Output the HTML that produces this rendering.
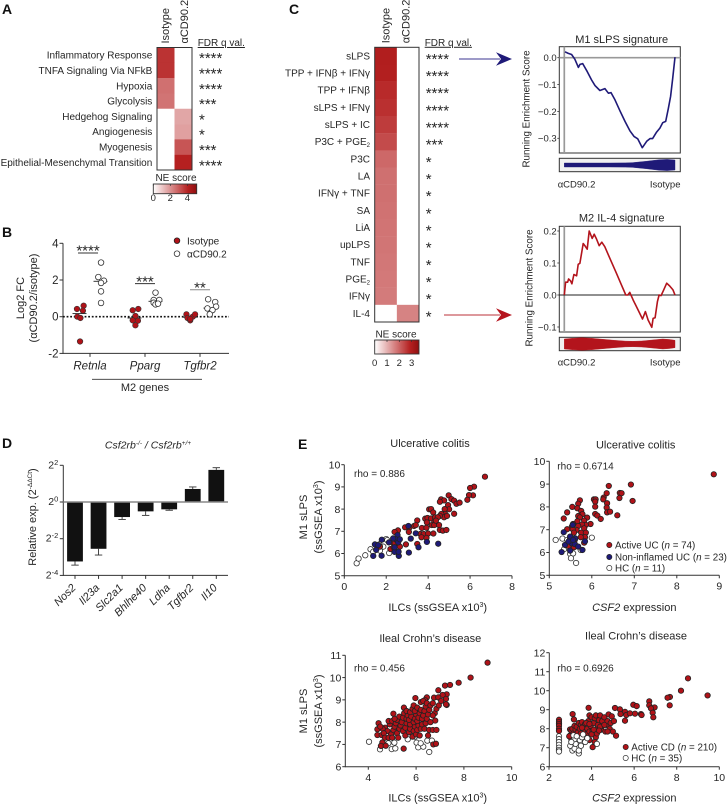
<!DOCTYPE html>
<html lang="en">
<head>
<meta charset="utf-8">
<title>Multi-panel figure</title>
<style>
html,body{margin:0;padding:0;background:#fff;width:727px;height:804px;overflow:hidden}
svg{display:block}
text{font-family:"Liberation Sans",sans-serif;fill:#262626}
.let{font-weight:bold;font-size:14px;fill:#111}
.it{font-style:italic}
</style>
</head>
<body>
<svg id="fig" xmlns="http://www.w3.org/2000/svg" width="727" height="804" viewBox="0 0 727 804">
<defs>
<linearGradient id="heatGrad" x1="0" x2="1" y1="0" y2="0">
<stop offset="0" stop-color="#ffffff"/><stop offset="0.8" stop-color="#b52020"/><stop offset="1" stop-color="#8f0f10"/>
</linearGradient>
</defs>
<text class="let" x="2" y="14">A</text>
<text class="let" x="2" y="237">B</text>
<text class="let" x="289" y="14">C</text>
<text class="let" x="2" y="448">D</text>
<text class="let" x="298" y="449">E</text>

<g id="panelA"></g>
<g id="panelB">
<text transform="translate(24,298) rotate(-90)" text-anchor="middle" font-size="11">Log2 FC</text>
<text transform="translate(37,298) rotate(-90)" text-anchor="middle" font-size="11">(αCD90.2/isotype)</text>
<circle cx="177" cy="240.7" r="2.8" fill="#b01218" stroke="#222" stroke-width="0.8"/>
<text x="187" y="244.3" font-size="10">Isotype</text>
<circle cx="177" cy="253.7" r="2.8" fill="#fff" stroke="#333" stroke-width="0.8"/>
<text x="187" y="257.3" font-size="10">αCD90.2</text>
<line x1="92" x2="202" y1="379.3" y2="379.3" stroke="#333" stroke-width="0.9"/>
<text x="145" y="391" text-anchor="middle" font-size="11">M2 genes</text>
</g>
<g id="panelC">
<line x1="459" x2="500" y1="59" y2="59" stroke="#7d79b5" stroke-width="1.6"/>
<polygon points="512,59 496,52.3 501,59 496,65.7" fill="#1f1a78"/>
<line x1="444" x2="500" y1="315" y2="315" stroke="#d2777c" stroke-width="1.6"/>
<polygon points="512,315 496,308.3 501,315 496,321.7" fill="#b5141e"/>
</g>
<g id="gsea1">
<text x="621.7" y="43" text-anchor="middle" font-size="11">M1 sLPS signature</text>
<text transform="translate(529.5,109) rotate(-90)" text-anchor="middle" font-size="9.8">Running Enrichment Score</text>
<text x="570.3" y="139" font-size="8.5">NES = -3.60</text>
<text x="570.3" y="148.7" font-size="8.5">FDR q val. = 0</text>
<text x="557.7" y="187.5" font-size="9.5">αCD90.2</text>
<text x="680.5" y="187.5" text-anchor="end" font-size="9.5">Isotype</text>
</g>
<g id="gsea2">
<text x="621.7" y="221.5" text-anchor="middle" font-size="11">M2 IL-4 signature</text>
<text transform="translate(532.5,288) rotate(-90)" text-anchor="middle" font-size="9.8">Running Enrichment Score</text>
<text x="570.3" y="317" font-size="8.5">NES = 1.83</text>
<text x="570.3" y="328" font-size="8.5">FDR q val. = 0.037</text>
<text x="557.7" y="365.5" font-size="9.5">αCD90.2</text>
<text x="680.5" y="365.5" text-anchor="end" font-size="9.5">Isotype</text>
</g>
<g id="panelD">
<text x="148" y="448.5" text-anchor="middle" font-size="10.5" class="it">Csf2rb<tspan dy="-3.5" font-size="6.5">-/-</tspan><tspan dy="3.5"> / Csf2rb</tspan><tspan dy="-3.5" font-size="6.5">+/+</tspan></text>
<text transform="translate(36,517) rotate(-90)" text-anchor="middle" font-size="11">Relative exp. (2<tspan dy="-4" font-size="6.5">-ΔΔCt</tspan><tspan dy="4">)</tspan></text>
</g>
<g id="scatter1">
<text x="430" y="447" text-anchor="middle" font-size="11">Ulcerative colitis</text>
<text x="354" y="477" font-size="10">rho = 0.886</text>
<text x="437.7" y="611" text-anchor="middle" font-size="11">ILCs (ssGSEA x10<tspan dy="-4" font-size="7">3</tspan><tspan dy="4">)</tspan></text>
<text transform="translate(307,517) rotate(-90)" text-anchor="middle" font-size="11">M1 sLPS</text>
<text transform="translate(322,517) rotate(-90)" text-anchor="middle" font-size="11">(ssGSEA x10<tspan dy="-4" font-size="7">3</tspan><tspan dy="4">)</tspan></text>
</g>
<g id="scatter2">
<text x="635.7" y="448.5" text-anchor="middle" font-size="11">Ulcerative colitis</text>
<text x="557.3" y="469.5" font-size="10">rho = 0.6714</text>
<text x="634.3" y="611" text-anchor="middle" font-size="11"><tspan class="it">CSF2</tspan> expression</text>
</g>
<g id="scatter3">
<text x="430.3" y="642" text-anchor="middle" font-size="11">Ileal Crohn’s disease</text>
<text x="354" y="671.3" font-size="10">rho = 0.456</text>
<text x="437.7" y="801.5" text-anchor="middle" font-size="11">ILCs (ssGSEA x10<tspan dy="-4" font-size="7">3</tspan><tspan dy="4">)</tspan></text>
<text transform="translate(307,711) rotate(-90)" text-anchor="middle" font-size="11">M1 sLPS</text>
<text transform="translate(322,711) rotate(-90)" text-anchor="middle" font-size="11">(ssGSEA x10<tspan dy="-4" font-size="7">3</tspan><tspan dy="4">)</tspan></text>
</g>
<g id="scatter4">
<text x="636" y="639.5" text-anchor="middle" font-size="11">Ileal Crohn’s disease</text>
<text x="557.3" y="671.3" font-size="10">rho = 0.6926</text>
<text x="634.3" y="801.5" text-anchor="middle" font-size="11"><tspan class="it">CSF2</tspan> expression</text>
</g>
<g id="legends">
<circle cx="609.3" cy="545" r="2.6" fill="#b01218" stroke="#222" stroke-width="0.7"/>
<text x="615" y="548.3" font-size="9.8">Active UC (<tspan class="it">n</tspan> = 74)</text>
<circle cx="609.3" cy="557" r="2.6" fill="#1e1a78" stroke="#222" stroke-width="0.7"/>
<text x="615" y="560.3" font-size="9.8">Non-inflamed UC (<tspan class="it">n</tspan> = 23)</text>
<circle cx="609.3" cy="568" r="2.6" fill="#fff" stroke="#333" stroke-width="0.7"/>
<text x="615" y="571.3" font-size="9.8">HC (<tspan class="it">n</tspan> = 11)</text>
<circle cx="625.7" cy="747" r="2.6" fill="#b01218" stroke="#222" stroke-width="0.7"/>
<text x="631.3" y="750.3" font-size="9.8">Active CD (<tspan class="it">n</tspan> = 210)</text>
<circle cx="625.7" cy="758" r="2.6" fill="#fff" stroke="#333" stroke-width="0.7"/>
<text x="631.3" y="761.3" font-size="9.8">HC (<tspan class="it">n</tspan> = 35)</text>
</g>
</svg>
<script>
// ---------- Panel A data ----------
const aLabels = ["Inflammatory Response","TNFA Signaling Via NFkB","Hypoxia","Glycolysis","Hedgehog Signaling","Angiogenesis","Myogenesis","Epithelial-Mesenchymal Transition"];
const aIsotype = [3.73,3.73,2.61,2.55,null,null,null,null];
const aCd90 = [null,null,null,null,1.63,1.73,3.11,4.08];
const aStars = ["****","****","****","***","*","*","***","****"];
const aBarTicks = [0,2,4];
// ---------- Panel C data ----------
const cLabels = ["sLPS","TPP + IFNβ + IFNγ","TPP + IFNβ","sLPS + IFNγ","sLPS + IC","P3C + PGE_2","P3C","LA","IFNγ + TNF","SA","LiA","upLPS","TNF","PGE_2","IFNγ","IL-4"];
const cIsotype = [2.96,2.93,2.75,2.67,2.52,2.32,1.95,1.85,1.85,1.82,1.8,1.78,1.75,1.73,1.7,null];
const cCd90 = [null,null,null,null,null,null,null,null,null,null,null,null,null,null,null,1.6];
const cStars = ["****","****","****","****","****","***","*","*","*","*","*","*","*","*","*","*"];
const cBarTicks = [0,1,2,3];
// ---------- Panel B data ----------
const bGenes = ["Retnla","Pparg","Tgfbr2"];
const bIsoOffsets = [[-0.14,0.23,0.19,-0.12,0.05,0.03],[-0.1,0.21,0.05,-0.1,0.19,0.05],[-0.17,-0.11,0.04,0.18,0.31,0.04]];
const bIsoValues = [[0.42,0.6,0.33,0,-0.07,-1.35],[0.35,0.42,0.04,-0.2,-0.22,-0.47],[0.13,-0.07,-0.2,0,0.13,-0.13]];
const bAntiOffsets = [[0.03,-0.12,0.19,0.03,0.03,0.03],[0,-0.1,0.21,-0.1,0,0.14],[-0.13,0.26,-0.17,0.31,0.11,-0.04]];
const bAntiValues = [[2.95,2.16,1.96,1.84,1.38,0.75],[1.31,0.91,0.91,0.76,0.67,0.71],[0.95,0.8,0.45,0.55,0.36,0.13]];
const bIsoMeans = [0.17,-0.07,-0.03];
const bAntiMeans = [1.93,0.84,0.47];
const bSigLevels = [3.47,1.8,1.47];
const bSigLabels = ["****","***","**"];
const bSigShift = [-0.11,0,0];
const bYTicks = [-2,0,2,4];
// ---------- GSEA data ----------
const m1Ranks = [0.6,3.6,6.6,9.6,12.7,14.2,16.6,20.8,24.7,27.7,32.2,36.7,39.8,42.2,45.8,50.3,54.8,59.3,63,66.3,70.5,74.4,77.4,79.8,83.4,86.4,88.9,91.6,94,96,97.9,100];
const m1Scores = [0.022,0.016,0.012,-0.006,-0.036,-0.025,-0.022,-0.052,-0.083,-0.104,-0.122,-0.115,-0.132,-0.13,-0.157,-0.198,-0.237,-0.272,-0.293,-0.302,-0.335,-0.311,-0.301,-0.301,-0.277,-0.262,-0.242,-0.237,-0.188,-0.144,-0.077,0.002];
const m1Ticks = [0,-0.1,-0.2,-0.3];
const m1TickLabels = ["0.0","−0.1","−0.2","−0.3"];
const m1ViolinRanks = [0,20,40,55,62,74,86,93,100];
const m1ViolinDensity = [2,2,2,2.1,2.4,3.7,5.3,5.6,5];
const m2Ranks = [0,1.2,3,3.9,5.7,6.9,8.7,11.1,12.6,14.1,17.1,18.6,20.7,22.5,25.2,27,29.1,31.5,33.9,36.6,41.1,47.1,51.7,55.6,57.4,59.2,62.2,66.7,70.6,73.3,75.7,79,80.2,82,84.1,85.6,87.4,89.8,92.5,95.2,98.2,100];
const m2Scores = [0,0.04,0.04,0.05,0.044,0.035,0.064,0.06,0.096,0.099,0.161,0.154,0.143,0.2,0.177,0.19,0.175,0.154,0.165,0.151,0.115,0.068,0.031,0,0,0.008,-0.016,-0.047,-0.075,-0.052,-0.078,-0.101,-0.073,-0.071,-0.021,0,-0.002,0.016,0.037,0.028,0.016,0];
const m2Ticks = [0.2,0.1,0,-0.1];
const m2TickLabels = ["0.2","0.1","0.0","−0.1"];
const m2ViolinRanks = [0,8,16,24,32,45,55,62,70,77,89,95,100];
const m2ViolinDensity = [5,5.8,6.3,5.8,5,3.7,2.9,2.7,3,3.7,5,4.5,3.7];
// ---------- Panel D data ----------
const dGenes = ["Nos2","Il23a","Slc2a1","Bhlhe40","Ldha","Tgfbr2","Il10"];
const dValues = [-3.24,-2.55,-0.82,-0.51,-0.4,0.71,1.75];
const dErrors = [0.2,0.34,0.13,0.22,0.05,0.11,0.12];
const dYTicks = [2,0,-2,-4];
// ---------- Panel E data ----------
const s1Red = [[6.71,9.46],[6.19,9.01],[6,8.95],[6.14,8.62],[5.95,8.63],[5.87,8.42],[4.98,8.62],[5.11,8.45],[5.24,8.38],[5.35,8.24],[5.5,8.29],[4.62,8.44],[4.76,8.39],[4.56,8.33],[4.95,8.18],[5,7.99],[4.79,8],[5.24,7.79],[4.05,7.99],[4.14,8],[4.24,7.85],[4.81,7.78],[4.63,7.78],[4.76,7.63],[4.56,7.69],[4.9,7.69],[3.48,7.49],[3.86,7.57],[3.97,7.6],[4.14,7.58],[4.33,7.63],[4.46,7.63],[3.94,7.4],[4.3,7.43],[4.17,7.28],[4.29,7.28],[4.52,7.28],[4.37,7.48],[3.33,7.24],[3.41,7.28],[2.9,7.18],[3.1,7.16],[3.7,7.15],[3.92,7.16],[4.56,7.06],[4.7,7.03],[4.87,7.06],[2.56,7.04],[2.4,6.97],[3.08,6.97],[3.63,6.88],[3.79,6.88],[4,6.9],[4.25,6.9],[3.68,6.73],[3.92,6.7],[2.6,6.6],[2.33,6.49],[2.52,6.44],[2.94,6.41],[3.48,6.43],[1.7,6.31],[2.2,6.2],[2.35,6.28],[2.65,6.31],[2.41,6.46],[2.49,6.61]];
const s1Blue = [[1.38,5.89],[1.78,5.9],[2.6,5.89],[2.4,6.07],[2.59,6.08],[3.08,6.04],[3.54,6.28],[1.52,6.16],[1.46,6.41],[1.79,6.62],[2.13,6.5],[2.54,6.83],[2.44,6.65],[2.57,6.5],[3.17,6.67],[3.41,6.91],[3.94,6.52],[4.48,6.44],[3.06,7.24],[2.33,6.68],[2.4,6.28],[2.65,6.64],[1.62,6.38]];
const s1Hc = [[0.59,5.56],[0.68,5.77],[1,5.92],[1.25,6.19],[1.7,6.13],[2.14,6.02],[2,6.65],[1.67,6.41],[1.38,6.08],[1.86,6.31],[2.05,6.6]];
const s1XTicks = [0,2,4,6,8];
const s1YTicks = [5,6,7,8,9,10];
const s2Red = [[8.87,9.43],[6.92,8.98],[6.4,8.92],[6.35,8.6],[6.66,8.61],[6.7,8.6],[6.28,8.41],[6.27,8.33],[6.65,8.39],[6.96,8.26],[6.36,8.16],[6.05,8.33],[6.09,8.33],[6.08,8.23],[6.08,8.01],[6.35,7.97],[6.36,7.76],[6.43,7.79],[6.08,7.69],[6.13,7.62],[6.21,7.47],[6.6,7.63],[5.72,8.29],[5.68,8.14],[5.54,8],[5.66,7.94],[5.42,7.76],[5.34,7.49],[5.75,7.82],[5.78,7.68],[5.68,7.6],[5.72,7.54],[5.89,7.53],[5.82,7.4],[5.66,7.37],[5.97,7.25],[5.86,7.21],[5.77,7.22],[5.68,7.16],[5.56,7.25],[5.53,7.13],[5.42,7.02],[5.64,6.99],[5.82,7.06],[5.55,7.02],[5.75,6.87],[5.86,6.87],[5.58,6.87],[5.84,6.67],[5.74,6.67],[5.82,6.43],[5.45,6.29],[5.58,6.23],[5.49,6.62],[5.6,6.55]];
const s2Blue = [[5.34,6.89],[5.55,7.21],[5.49,6.7],[5.61,6.62],[5.53,6.4],[5.6,6.37],[5.29,6.02],[5.37,6.33],[5.49,6.08],[5.84,6.49],[5.78,6.11],[5.45,6.48],[5.68,6.26],[5.56,6.55]];
const s2Hc = [[5.15,6.55],[5.31,6.61],[5.42,6.55],[6,6.65],[5.35,6.15],[5.45,6.23],[5.49,5.94],[5.56,5.96],[5.51,5.75],[5.63,5.54],[5.74,6.11]];
const s2XTicks = [5,6,7,8,9];
const s2YTicks = [5,6,7,8,9,10];
const s3Red = [[8.99,10.67],[8.28,10],[7.78,9.77],[7.42,9.67],[7.21,9.64],[6.93,9.43],[7.28,9.25],[7.11,9.22],[7.25,9.04],[7.28,8.77],[5.97,9.08],[6.45,9.11],[6.37,8.99],[6.75,9.1],[6.93,9.11],[5.49,8.65],[5.05,8.38],[4.43,7.95],[4.38,7.42],[4.38,7.68],[4.56,7.42],[4.59,7.09],[4.53,6.93],[4.73,6.94],[5.48,6.81],[6.72,7],[6.83,7.03],[6.8,8.07],[6.78,8.4],[4.7,7.75],[4.8,7.6],[4.9,7.9],[4.85,8.05],[5,8.05],[4.95,7.45],[5.05,7.65],[5.1,7.8],[5.15,7.95],[5.2,7.5],[5.25,7.3],[5.3,7.7],[5.2,8.1],[5.35,7.85],[5.4,8],[5.45,7.6],[5.3,8.25],[5.45,8.2],[5.5,8.4],[5.55,7.4],[5.55,7.75],[5.6,7.95],[5.6,8.15],[5.65,8.3],[5.6,8.5],[5.7,7.55],[5.75,7.7],[5.75,7.9],[5.7,8.1],[5.8,8.25],[5.75,8.45],[5.85,8.6],[5.9,8.75],[5.85,7.35],[5.9,7.6],[5.95,7.8],[5.9,8],[5.95,8.15],[6,8.35],[5.95,8.5],[6.05,8.65],[6,7.45],[6.05,7.65],[6.1,7.85],[6.05,8.05],[6.1,8.2],[6.15,8.4],[6.2,8.55],[6.2,8.9],[6.3,8.95],[6.15,7.4],[6.2,7.7],[6.25,7.9],[6.25,8.15],[6.3,8.3],[6.35,8.5],[6.4,8.7],[6.45,8.85],[6.35,7.7],[6.4,7.95],[6.45,8.15],[6.5,8.35],[6.55,8.55],[6.6,8.75],[6.7,8.85],[6.5,7.4],[6.55,7.65],[6.7,7.65],[6.85,7.65],[6.6,8],[6.7,8.3],[6.85,8.6],[6.95,8.75],[7.05,8.95],[7.25,8.8],[4.6,7.7],[4.65,7.5],[4.7,7.3],[4.85,7.3],[5,7.3],[4.5,7.8],[5.1,8.15]];
const s3Hc = [[4.03,7.12],[4.49,6.78],[4.56,6.97],[4.84,7.05],[5.09,7.08],[4.98,6.79],[5.13,6.82],[5.65,7.23],[6.02,7.08],[6.09,6.87],[6.3,6.9],[6.47,7.17],[6.55,6.66],[6.66,7.17],[5.95,7.35],[6.19,7.05]];
const s3XTicks = [4,6,8,10];
const s3YTicks = [6,7,8,9,10,11];
const s4Red = [[9.45,9.75],[8.53,10.65],[8.2,10],[7.68,9.67],[7.57,9.63],[7.67,9.23],[6.71,9.44],[6.71,9.23],[6.96,9.12],[6.79,9.07],[6.87,8.84],[6.9,8.6],[5.96,9.26],[6.12,9.19],[6.32,8.77],[6.35,8.72],[5.57,8.89],[5.63,8.72],[5.57,8.42],[5.8,8.81],[6.04,8.79],[5.33,9.02],[5.1,9.09],[5.36,8.77],[5.15,7.63],[3.11,8.77],[3.17,8.49],[3.86,9.1],[4.05,7.03],[2.99,7.96],[2.47,8.47],[2.47,8.35],[2.47,8.25],[2.47,8.15],[2.47,8],[2.47,7.88],[3,7.65],[3.05,7.9],[3.1,8],[3.15,7.75],[3.2,8.15],[3.25,7.95],[3.3,8.1],[3.35,7.8],[3.4,8.3],[3.45,8],[3.5,8.2],[3.55,8.35],[3.6,7.85],[3.65,8.1],[3.7,8.25],[3.75,7.7],[3.8,8],[3.85,8.4],[3.9,8.7],[3.9,7.85],[3.95,8.15],[4,8.6],[4.05,7.9],[4.1,8.3],[4.15,8.55],[4.2,8.7],[4.2,7.55],[4.25,7.75],[4.25,8],[4.3,8.2],[4.35,8.45],[4.4,8.7],[4.45,7.95],[4.5,8.15],[4.5,8.4],[4.6,8.6],[4.65,7.85],[4.7,8.2],[4.75,8.4],[4.8,8.75],[4.85,8],[4.9,8.3],[4.95,8.65],[5,7.85],[5.05,8.4],[4.15,7.3],[3.9,7.4],[3.7,7.55],[3.5,7.75],[3.35,7.45],[3.1,7.05],[3.05,7.45],[2.95,7.6],[4.4,8.1],[4.6,8.2],[4,7.7],[3.75,8.3],[3.55,8.05],[3.2,7.6],[4.1,7.95],[3.9,8.25],[4.35,7.9],[4.75,7.85]];
const s4Hc = [[2.47,7.6],[2.47,7.45],[2.47,7.3],[2.47,7.15],[2.47,7],[2.47,6.88],[2.47,6.8],[3,7.1],[3.1,6.85],[3.2,6.95],[3.25,7.2],[3.4,6.7],[3.4,6.85],[3.5,7.1],[3.45,7.4],[3.2,7.45],[3.15,7.65],[3.3,7.6],[3.55,7.55],[3.7,7.3],[3.6,7.7],[4.25,7.2],[3.8,7.5],[3.05,7.3]];
const s4XTicks = [2,4,6,8,10];
const s4YTicks = [6,7,8,9,10,11,12];

const NS = "http://www.w3.org/2000/svg";
function el(tag, attrs, parent, txt) {
  const n = document.createElementNS(NS, tag);
  for (const k in attrs) n.setAttribute(k, attrs[k]);
  if (txt !== undefined) n.textContent = txt;
  parent.appendChild(n);
  return n;
}
function linear(d0, d1, r0, r1) { return v => r0 + (v - d0) / (d1 - d0) * (r1 - r0); }
const $ = id => document.getElementById(id);
function mix(a, b, t) { return a.map((c, i) => Math.round(c + (b[i] - c) * t)); }
function heatColor(v, vmax) {
  if (v === null) return "#ffffff";
  const t = Math.max(0, Math.min(1, v / vmax));
  const rgb = t < 0.8 ? mix([255,255,255],[181,32,32], t / 0.8) : mix([181,32,32],[143,15,16], (t - 0.8) / 0.2);
  return "rgb(" + rgb.join(",") + ")";
}

function drawHeatmap(g, o) {
  const n = o.labels.length;
  const yRow = linear(0, n, o.y0, o.y1);
  const xCol = linear(0, 2, o.x0, o.x1);
  const rowH = yRow(1) - yRow(0);
  for (let i = 0; i < n; i++) {
    [o.colA, o.colB].forEach((col, c) => {
      const r = el("rect", {x: xCol(c), y: yRow(i), width: xCol(1) - xCol(0) + 0.2, height: rowH + 0.2, fill: heatColor(col[i], o.vmax)}, g);
      
      
    });
    const cy = yRow(i) + rowH / 2;
    const parts = o.labels[i].split("_");
    const t = el("text", {x: o.x0 - 4.7, y: cy + 3.5, "text-anchor": "end", "font-size": 10}, g, parts[0]);
    
    
    if (parts[1]) {
      const sub = el("tspan", {dy: 2, "font-size": 6}, t, parts[1]);
      
      
    }
    const s = el("text", {x: o.starX, y: cy + 8, "font-size": 15}, g, o.stars[i]);
    
    
  }
  const frame = el("rect", {x: o.x0, y: o.y0, width: o.x1 - o.x0, height: o.y1 - o.y0, fill: "none", stroke: "#333", "stroke-width": 1}, g);
  
  
  [["Isotype", 0], ["αCD90.2", 1]].forEach(h => {
    const hx = xCol(h[1]) + (xCol(1) - xCol(0)) / 2 + 4 + o.headShift[h[1]];
    const t = el("text", {transform: "translate(" + hx + "," + (o.y0 - 4) + ") rotate(-90)", "font-size": 11}, g, h[0]);
    
    
  });
  const f = el("text", {x: o.fdrX, y: o.y0 - 1.5, "font-size": 10, "text-decoration": "underline"}, g, "FDR q val.");
  
  
  // colorbar
  const cb = o.bar;
  const ns = el("text", {x: cb.cx, y: cb.titleY, "text-anchor": "middle", "font-size": 10}, g, "NE score");
  
  
  const br = el("rect", {x: cb.x0, y: cb.y0, width: cb.x1 - cb.x0, height: cb.y1 - cb.y0, fill: "url(#heatGrad)", stroke: "#333", "stroke-width": 0.9}, g);
  
  
  const xb = linear(0, o.vmax, cb.x0, cb.x1);
  o.barTicks.forEach(tv => {
    const tk = el("line", {x1: xb(tv), x2: xb(tv), y1: cb.y0, y2: cb.y0 + 2, stroke: "#333", "stroke-width": 0.7}, g);
    
    
    const tl = el("text", {x: xb(tv), y: cb.labelY, "text-anchor": "middle", "font-size": 9.5}, g, tv);
    
    
  });
}
drawHeatmap($("panelA"), {labels: aLabels, colA: aIsotype, colB: aCd90, stars: aStars, x0: 157, x1: 192, y0: 47.5, y1: 170, vmax: 5.1, starX: 199, fdrX: 197.7, barTicks: aBarTicks, headShift: [-0.7, 0.7],
  bar: {x0: 153.3, x1: 196.7, y0: 184, y1: 193.7, cx: 176, titleY: 181, labelY: 201}});
drawHeatmap($("panelC"), {labels: cLabels, colA: cIsotype, colB: cCd90, stars: cStars, x0: 374.7, x1: 419, y0: 47.3, y1: 322, vmax: 3.6, starX: 425.7, fdrX: 424.7, barTicks: cBarTicks, headShift: [-0.3, -2.4],
  bar: {x0: 374.7, x1: 419, y0: 340, y1: 354, cx: 396, titleY: 337.5, labelY: 366}});

// ---------- generic axes ----------
function drawAxes(g, o) {
  const xl = el("line", {x1: o.xA, x2: o.xB, y1: o.yBase, y2: o.yBase, stroke: "#333", "stroke-width": 1}, g);
  
  
  const yl = el("line", {x1: o.xA, x2: o.xA, y1: o.yTop, y2: o.yBase + 0.5, stroke: "#333", "stroke-width": 1}, g);
  
  
  o.xTicks.forEach(v => {
    const t = el("line", {x1: o.x(v), x2: o.x(v), y1: o.yBase, y2: o.yBase + 3, stroke: "#333", "stroke-width": 1}, g);
    
    
    const l = el("text", {x: o.x(v), y: o.yBase + 14.2, "text-anchor": "middle", "font-size": 10.5}, g, v);
    
    
  });
  o.yTicks.forEach(v => {
    const t = el("line", {x1: o.xA - 3, x2: o.xA, y1: o.y(v), y2: o.y(v), stroke: "#333", "stroke-width": 1}, g);
    
    
    const l = el("text", {x: o.xA - 4, y: o.y(v) + 3.7, "text-anchor": "end", "font-size": 10.5}, g, v);
    
    
  });
}
const styles = {
  red: {fill: "#b01218", stroke: "#222"},
  blue: {fill: "#1e1a78", stroke: "#222"},
  hc: {fill: "#fff", stroke: "#333"}
};
function drawPoints(g, pts, x, y, style, name) {
  pts.forEach(p => {
    const c = el("circle", {cx: x(p[0]), cy: y(p[1]), r: 2.7, fill: styles[style].fill, stroke: styles[style].stroke, "stroke-width": 0.8}, g);
    
    
  });
}
// scatter 1
(function () {
  const g = $("scatter1"), x = linear(0, 8, 344.3, 512), y = linear(5, 10, 575.7, 464.7);
  drawAxes(g, {xA: 344.3, xB: 512, yBase: 575.7, yTop: 464.7, x, y, xTicks: s1XTicks, yTicks: s1YTicks});
  drawPoints(g, s1Hc, x, y, "hc", "hc-point");
  drawPoints(g, s1Red, x, y, "red", "active-uc-point");
  drawPoints(g, s1Blue, x, y, "blue", "non-inflamed-uc-point");
})();
// scatter 2
(function () {
  const g = $("scatter2"), x = linear(5, 9, 549.3, 719.3), y = linear(5, 10, 575.3, 461.3);
  drawAxes(g, {xA: 549.3, xB: 719.3, yBase: 575.3, yTop: 461.3, x, y, xTicks: s2XTicks, yTicks: s2YTicks});
  drawPoints(g, s2Hc, x, y, "hc", "hc-point");
  drawPoints(g, s2Red, x, y, "red", "active-uc-point");
  drawPoints(g, s2Blue, x, y, "blue", "non-inflamed-uc-point");
})();
// scatter 3
(function () {
  const g = $("scatter3"), x = linear(4, 10, 368.3, 511.7), y = linear(6, 11, 766.7, 655.3);
  drawAxes(g, {xA: 345.3, xB: 511.7, yBase: 766.7, yTop: 655.3, x, y, xTicks: s3XTicks, yTicks: s3YTicks});
  drawPoints(g, s3Hc, x, y, "hc", "hc-point");
  drawPoints(g, s3Red, x, y, "red", "active-cd-point");
})();
// scatter 4
(function () {
  const g = $("scatter4"), x = linear(2, 10, 549, 719.3), y = linear(6, 12, 766.7, 652.7);
  drawAxes(g, {xA: 549.3, xB: 719.3, yBase: 766.7, yTop: 652.7, x, y, xTicks: s4XTicks, yTicks: s4YTicks});
  drawPoints(g, s4Red, x, y, "red", "active-cd-point");
  drawPoints(g, s4Hc, x, y, "hc", "hc-point");
})();

// ---------- Panel B ----------
(function () {
  const g = $("panelB");
  const y = linear(0, 4, 316.7, 243.3);
  const xCat = linear(0, 2, 90, 200);
  const halfGroup = 10.5;
  const xA = 63, xB = 229, yBase = y(-2);
  const a1 = el("line", {x1: xA, x2: xB, y1: yBase, y2: yBase, stroke: "#333", "stroke-width": 1}, g);
  
  
  const a2 = el("line", {x1: xA, x2: xA, y1: y(4), y2: yBase + 0.5, stroke: "#333", "stroke-width": 1}, g);
  
  
  const z = el("line", {x1: xA, x2: xB, y1: y(0), y2: y(0), stroke: "#111", "stroke-width": 1.7, "stroke-dasharray": "1.8 1.8"}, g);
  
  
  bYTicks.forEach(v => {
    const t = el("line", {x1: xA - 3.5, x2: xA, y1: y(v), y2: y(v), stroke: "#333", "stroke-width": 1}, g);
    
    
    const l = el("text", {x: xA - 4.5, y: y(v) + 4, "text-anchor": "end", "font-size": 11.5}, g, v);
    
    
  });
  bGenes.forEach((name, i) => {
    const cx = xCat(i);
    const t = el("line", {x1: cx, x2: cx, y1: yBase, y2: yBase + 3.5, stroke: "#333", "stroke-width": 1}, g);
    
    
    const l = el("text", {x: cx, y: 369.7, "text-anchor": "middle", "font-size": 11.5, class: "it"}, g, name);
    
    
    const m1 = el("line", {x1: cx - halfGroup - 7, x2: cx - halfGroup + 7, y1: y(bIsoMeans[i]), y2: y(bIsoMeans[i]), stroke: "#222", "stroke-width": 0.9}, g);
    
    
    const m2 = el("line", {x1: cx + halfGroup - 7, x2: cx + halfGroup + 7, y1: y(bAntiMeans[i]), y2: y(bAntiMeans[i]), stroke: "#222", "stroke-width": 0.9}, g);
    
    
    bIsoValues[i].forEach((v, k) => {
      const c = el("circle", {cx: cx - halfGroup + bIsoOffsets[i][k] * 18, cy: y(v), r: 2.8, fill: "#b01218", stroke: "#333", "stroke-width": 0.6}, g);
      
      
    });
    bAntiValues[i].forEach((v, k) => {
      const c = el("circle", {cx: cx + halfGroup + bAntiOffsets[i][k] * 18, cy: y(v), r: 2.8, fill: "#fff", stroke: "#333", "stroke-width": 0.8}, g);
      
      
    });
    const sx = cx + bSigShift[i] * 18;
    const bar = el("line", {x1: sx - 10, x2: sx + 10, y1: y(bSigLevels[i]), y2: y(bSigLevels[i]), stroke: i === 2 ? "#888" : "#333", "stroke-width": 1}, g);
    
    
    const st = el("text", {x: sx, y: y(bSigLevels[i]) + 2.7, "text-anchor": "middle", "font-size": 15}, g, bSigLabels[i]);
    
    
  });
})();

// ---------- GSEA ----------
function drawGsea(g, o) {
  const xRank = linear(0, 100, 564.3, 675);
  const y = linear(o.d0, o.d1, o.r0, o.r1);
  const L = 559.3, R = 680.3;
  const bg = el("rect", {x: L, y: o.top, width: R - L, height: o.bottom - o.top, fill: "#fff", stroke: "#333", "stroke-width": 1}, g);
  
  
  const v = el("line", {x1: xRank(0), x2: xRank(0), y1: o.top, y2: o.bottom, stroke: "#999", "stroke-width": 1.7}, g);
  
  
  const z = el("line", {x1: L, x2: R, y1: y(0), y2: y(0), stroke: o.zeroColor, "stroke-width": o.zeroWidth}, g);
  
  
  o.ticks.forEach((tv, i) => {
    const t = el("line", {x1: L - 2, x2: L, y1: y(tv), y2: y(tv), stroke: "#333", "stroke-width": 0.8}, g);
    
    
    const l = el("text", {x: L - 2.6, y: y(tv) + 3.4, "text-anchor": "end", "font-size": 9.5}, g, o.tickLabels[i]);
    
    
  });
  const pts = o.ranks.map((r, i) => xRank(r).toFixed(1) + "," + y(o.scores[i]).toFixed(1)).join(" ");
  const line = el("polyline", {points: pts, fill: "none", stroke: o.color, "stroke-width": 1.6, "stroke-linejoin": "round"}, g);
  
  
  // rug strip
  const strip = el("rect", {x: L, y: o.stripTop, width: R - L, height: o.stripBottom - o.stripTop, fill: "#f1f1f1", stroke: "#333", "stroke-width": 1}, g);
  
  
  const mid = (o.stripTop + o.stripBottom) / 2;
  const upper = o.vRanks.map((r, i) => xRank(r).toFixed(1) + "," + (mid - o.vDens[i]).toFixed(1));
  const lower = o.vRanks.map((r, i) => xRank(r).toFixed(1) + "," + (mid + o.vDens[i]).toFixed(1)).reverse();
  const vio = el("polygon", {points: upper.concat(lower).join(" "), fill: o.color, stroke: o.color, "stroke-width": 0.4}, g);
  
  
}
drawGsea($("gsea1"), {d0: 0, d1: -0.3, r0: 57.7, r1: 138.3, top: 46.7, bottom: 153, zeroColor: "#999", zeroWidth: 1.7, ticks: m1Ticks, tickLabels: m1TickLabels, ranks: m1Ranks, scores: m1Scores, color: "#1f1a78", stripTop: 158.3, stripBottom: 171.7, vRanks: m1ViolinRanks, vDens: m1ViolinDensity});
drawGsea($("gsea2"), {d0: 0, d1: 0.2, r0: 295, r1: 231, top: 226.3, bottom: 332, zeroColor: "#222", zeroWidth: 0.9, ticks: m2Ticks, tickLabels: m2TickLabels, ranks: m2Ranks, scores: m2Scores, color: "#b3141c", stripTop: 337.3, stripBottom: 350.7, vRanks: m2ViolinRanks, vDens: m2ViolinDensity});

// ---------- Panel D ----------
(function () {
  const g = $("panelD");
  const y = linear(0, 2, 502, 465.3);
  const xBar = linear(0, 6, 75, 216.3);
  const xA = 63.3, xB = 228;
  const a1 = el("line", {x1: xA, x2: xB, y1: y(-4), y2: y(-4), stroke: "#333", "stroke-width": 1}, g);
  
  
  const a2 = el("line", {x1: xA, x2: xA, y1: y(2), y2: y(-4) + 0.5, stroke: "#333", "stroke-width": 1}, g);
  
  
  dYTicks.forEach(v => {
    const t = el("line", {x1: xA - 3.5, x2: xA, y1: y(v), y2: y(v), stroke: "#333", "stroke-width": 1}, g);
    
    
    const l = el("text", {x: xA - 5, y: y(v) + 3, "text-anchor": "end", "font-size": 10.5}, g, "2");
    
    
    const sup = el("tspan", {dy: -3.5, "font-size": 7.5}, l, v);
    
    
  });
  dGenes.forEach((name, i) => {
    const cx = xBar(i), v = dValues[i], e = dErrors[i], sign = v < 0 ? -1 : 1;
    const tip = y(v + sign * e);
    const w = el("line", {x1: cx, x2: cx, y1: y(v), y2: tip, stroke: "#333", "stroke-width": 0.9}, g);
    
    
    const cap = el("line", {x1: cx - 3.7, x2: cx + 3.7, y1: tip, y2: tip, stroke: "#333", "stroke-width": 0.9}, g);
    
    
    const b = el("rect", {x: cx - 7.9, y: Math.min(y(0), y(v)), width: 15.8, height: Math.abs(y(v) - y(0)), fill: "#111"}, g);
    
    
    const t = el("line", {x1: cx, x2: cx, y1: y(-4), y2: y(-4) + 3.5, stroke: "#333", "stroke-width": 1}, g);
    
    
    const l = el("text", {transform: "translate(" + (cx + 1.5) + "," + (y(-4) + 13) + ") rotate(-45)", "text-anchor": "end", "font-size": 11, class: "it"}, g, name);
    
    
  });
  const zl = el("line", {x1: xA, x2: xB, y1: y(0), y2: y(0), stroke: "#888", "stroke-width": 1.6}, g);
  
  
})();
</script>
</body>
</html>
